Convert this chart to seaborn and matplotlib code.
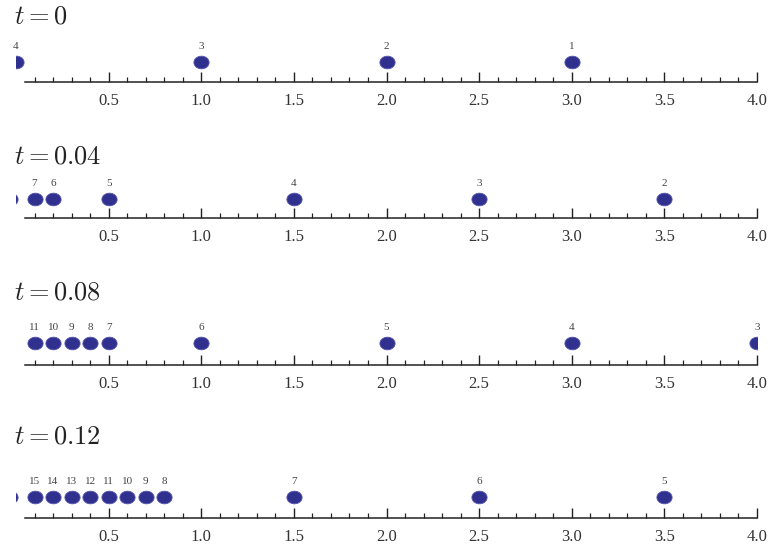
"""
Particle positions on a number line at four moments in time
"""

import numpy as np
import pandas as pd
import matplotlib
matplotlib.use("Agg")
import matplotlib.pyplot as plt
import seaborn as sns
from matplotlib.path import Path

# data
titles = [r"$t = 0$", r"$t = 0.04$", r"$t = 0.08$", r"$t = 0.12$"]

x_t0 = [0.0, 1.0, 2.0, 3.0]
lab_t0 = ["4", "3", "2", "1"]

x_t004 = [-0.035, 0.1, 0.2, 0.5, 1.5, 2.5, 3.5]
lab_t004 = ["", "7", "6", "5", "4", "3", "2"]

x_t008 = [0.1, 0.2, 0.3, 0.4, 0.5, 1.0, 2.0, 3.0, 4.0]
lab_t008 = ["11", "10", "9", "8", "7", "6", "5", "4", "3"]

x_t012 = [-0.035, 0.1, 0.2, 0.3, 0.4, 0.5, 0.6, 0.7, 0.8, 1.5, 2.5, 3.5]
lab_t012 = ["", "15", "14", "13", "12", "11", "10", "9", "8", "7", "6", "5"]

major_ticks = [0.5, 1.0, 1.5, 2.0, 2.5, 3.0, 3.5, 4.0]
major_labels = ["0.5", "1.0", "1.5", "2.0", "2.5", "3.0", "3.5", "4.0"]

panels = [(x_t0, lab_t0), (x_t004, lab_t004), (x_t008, lab_t008), (x_t012, lab_t012)]

sns.set_style("white")
plt.rcParams["font.family"] = ["Liberation Serif", "DejaVu Serif"]
plt.rcParams["mathtext.fontset"] = "cm"

W, H = 773, 548
fig = plt.figure(figsize=(W / 100, H / 100), dpi=100)

# slightly wide ellipse marker
th = np.linspace(0, 2 * np.pi, 60)
ellipse = Path(np.column_stack([1.2 * np.cos(th), np.sin(th)]), closed=True)

# minor ticks every 0.1, skipping 0 and the major positions
minor_ticks = [k / 10 for k in range(1, 40) if k % 5 != 0]

dot_col = "#30308f"
line_px = [82, 218, 365, 518]
title_px = [17, 158, 293, 437]
dot_h = [0.45, 0.43, 0.5, 0.48]
ax_h = 44
x0_px, x4_px = 16, 757

for i, (xs, labs) in enumerate(panels):
    ax = fig.add_axes([x0_px / W, 1 - line_px[i] / H, (x4_px - x0_px) / W, ax_h / H])
    df = pd.DataFrame({"x": xs, "y": dot_h[i], "label": labs})
    sns.scatterplot(data=df, x="x", y="y", ax=ax, marker=ellipse, s=120,
                    color=dot_col, edgecolor="#5858b0", linewidth=0.6, legend=False)
    for _, r in df.iterrows():
        if r["label"]:
            ax.annotate(r["label"], (r["x"], r["y"]), xytext=(0, 8), textcoords="offset points",
                        ha="center", va="bottom", fontsize=8, color="#444444")
    ax.set_xlim(0, 4.0)
    ax.set_ylim(0, 1)
    ax.set_xlabel("")
    ax.set_ylabel("")
    ax.set_yticks([])
    for s in ["top", "left", "right"]:
        ax.spines[s].set_visible(False)
    ax.spines["bottom"].set_bounds(0.05, 4.0)
    ax.spines["bottom"].set_color("#222222")
    ax.spines["bottom"].set_linewidth(1.1)
    ax.set_xticks(major_ticks)
    ax.set_xticklabels(major_labels)
    ax.set_xticks(minor_ticks, minor=True)
    ax.tick_params(axis="x", which="both", bottom=True, top=False)
    ax.tick_params(axis="x", which="major", direction="in", length=7, width=1,
                   color="#222222", labelsize=12, labelcolor="#333333", pad=8)
    ax.tick_params(axis="x", which="minor", direction="in", length=3.5, width=0.9,
                   color="#222222")
    ax.patch.set_alpha(0)
    fig.text(14 / W, 1 - title_px[i] / H, titles[i], fontsize=19, va="center", ha="left",
             color="#222222")

fig.savefig("out.png", dpi=100)
